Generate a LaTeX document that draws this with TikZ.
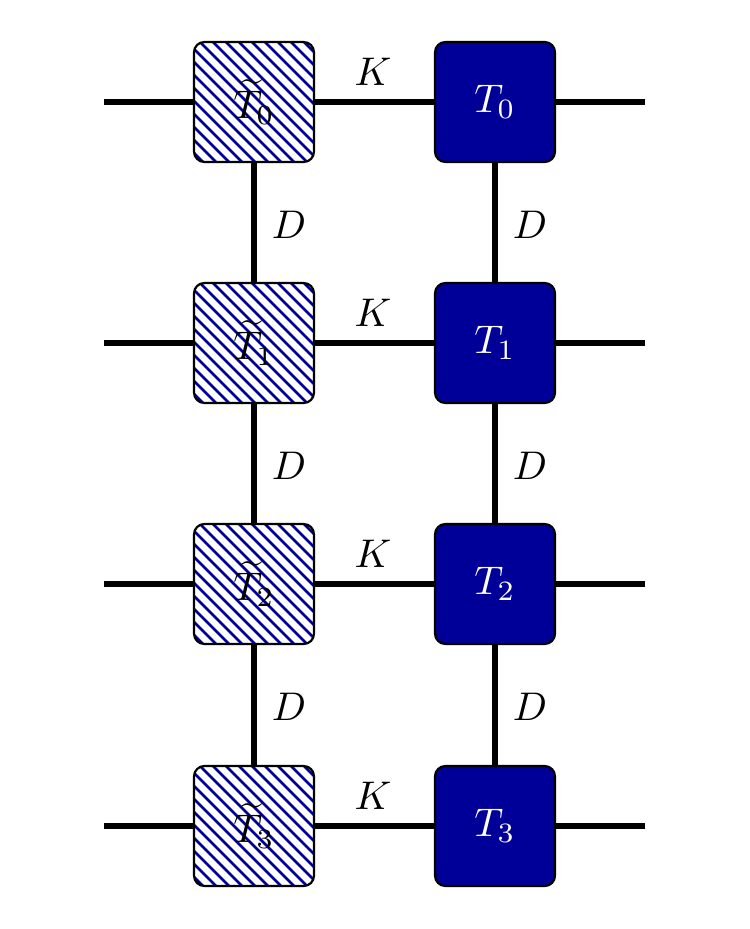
\documentclass[tikz,border=0pt]{standalone}
\definecolor{tnblue}{RGB}{0,0,153}
\begin{document}
\begin{tikzpicture}[x=0.25pt,y=-0.25pt,
  tbox/.style={draw=black,line width=0.55pt,rounded corners=2.6pt,minimum width=30pt,minimum height=30pt,inner sep=0pt},
  hatched/.style={tbox},
  hatchline/.style={tnblue,line width=0.65pt},
  solid/.style={tbox,fill=tnblue,text=white},
  bond/.style={line width=1.4pt},
  lbl/.style={inner sep=0pt}]
\useasboundingbox (0,0) rectangle (749,929);
\foreach \i/\y in {0/102,1/343,2/584,3/826}{
  \coordinate (l\i) at (104,\y);
  \coordinate (r\i) at (645,\y);
  \begin{scope}
    \clip[rounded corners=2.6pt] (194,\y-60) rectangle (314,\y+60);
    \foreach \c in {-130,-117,...,130}
      \draw[hatchline] (194+\c,\y-66) -- ++(134,134);
  \end{scope}
  \node[hatched] (a\i) at (254,\y) {$\widetilde{T}_{\i}$};
  \node[solid] (b\i) at (495,\y) {$T_{\i}$};
  \draw[bond] (l\i) -- (a\i.west);
  \draw[bond] (a\i.east) -- (b\i.west);
  \draw[bond] (b\i.east) -- (r\i);
  \node[lbl] at (373,\y-30) {$K$};
}
\foreach \i/\j/\y in {0/1/225,1/2/466,2/3/707}{
  \draw[bond] (a\i.south) -- (a\j.north);
  \draw[bond] (b\i.south) -- (b\j.north);
  \node[lbl] at (289,\y) {$D$};
  \node[lbl] at (530,\y) {$D$};
}
\end{tikzpicture}
\end{document}
